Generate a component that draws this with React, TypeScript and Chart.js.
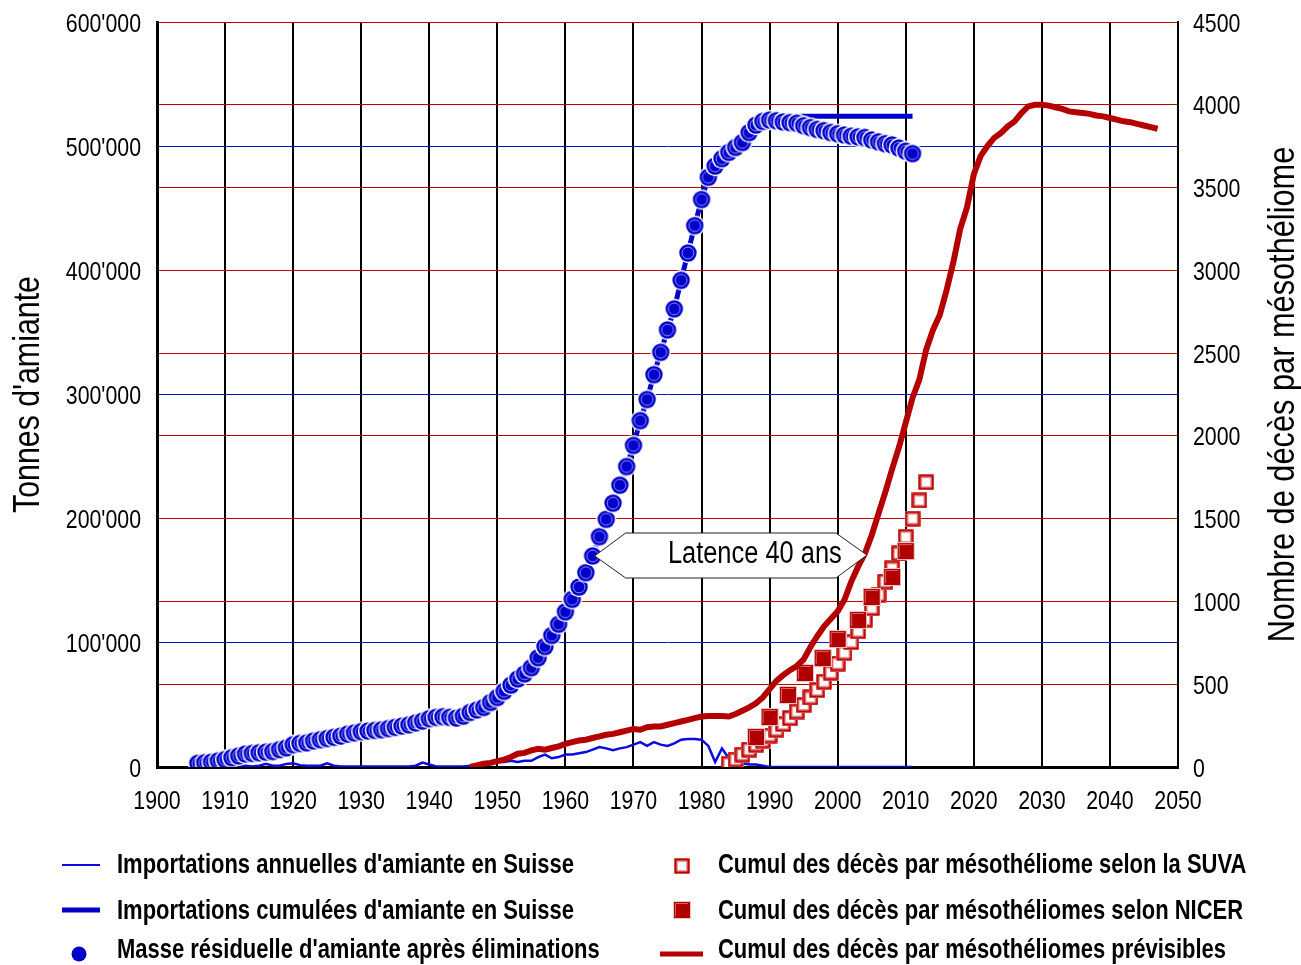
import React, { useEffect, useRef } from 'react';
import { Chart, registerables } from 'chart.js';

Chart.register(...registerables);

// Arial-metric face, horizontally condensed when drawn (Arial Narrow look)
const FONT = '"Liberation Sans", Arial, sans-serif';
const NARROW = 0.82;

// ---------- data ----------
const X_TICKS = [1900, 1910, 1920, 1930, 1940, 1950, 1960, 1970, 1980, 1990, 2000, 2010, 2020, 2030, 2040, 2050];
const Y_LEFT_TICKS = [0, 100, 200, 300, 400, 500, 600]; // thousand tonnes
const Y_LEFT_LABELS = ['0', "100'000", "200'000", "300'000", "400'000", "500'000", "600'000"];
const Y_RIGHT_TICKS = [0, 500, 1000, 1500, 2000, 2500, 3000, 3500, 4000, 4500];

const IMPORT_YEARS = [
  1906, 1907, 1908, 1909,
  1910, 1911, 1912, 1913, 1914, 1915, 1916, 1917, 1918, 1919,
  1920, 1921, 1922, 1923, 1924, 1925, 1926, 1927, 1928, 1929,
  1930, 1931, 1932, 1933, 1934, 1935, 1936, 1937, 1938, 1939,
  1940, 1941, 1942, 1943, 1944, 1945, 1946, 1947, 1948, 1949,
  1950, 1951, 1952, 1953, 1954, 1955, 1956, 1957, 1958, 1959,
  1960, 1961, 1962, 1963, 1964, 1965, 1966, 1967, 1968, 1969,
  1970, 1971, 1972, 1973, 1974, 1975, 1976, 1977, 1978, 1979,
  1980, 1981, 1982, 1983, 1984, 1985, 1986, 1987, 1988, 1989,
  1990, 1991, 1992, 1993, 1994, 1995, 1996, 1997, 1998, 1999,
  2000, 2001, 2002, 2003, 2004, 2005, 2006, 2007, 2008, 2009,
  2010, 2011,
];

// thousand tonnes per year
const ANNUAL_IMPORTS = [
  1, 0.5, 1, 1,
  1, 1.5, 1.5, 1, 0.5, 1, 2.5, 1, 1, 2.5,
  3, 1.5, 1, 1, 1, 3, 1, 0.5, 0.5, 0.5,
  0.5, 0.5, 0.5, 0.5, 0.5, 0.5, 0.5, 0.5, 1, 3.5,
  2, 0.5, 0.5, 0.5, 0.5, 0.5, 1, 2, 3, 3,
  4, 4, 5, 4, 5, 5, 8, 10, 7, 8,
  10, 10, 11, 12, 14, 16, 15, 13.5, 15, 16,
  18, 20, 17, 20, 18, 17, 19, 22, 22.5, 22.5,
  22, 17, 4, 15, 7, 4, 3, 2, 2, 1,
  0, 0, 0, 0, 0, 0, 0, 0, 0, 0,
  0, 0, 0, 0, 0, 0, 0, 0, 0, 0,
  0, 0,
];

// thousand tonnes
const CUMULATIVE_IMPORTS = [
  3, 3.5, 4, 5,
  6, 7.5, 9, 10.5, 11, 11.5, 12, 12.5, 14, 15.5,
  18, 19, 19.5, 21, 22, 23, 24, 25, 26.5, 27.5,
  28.5, 29, 29.5, 30, 31, 32, 33, 34, 35.5, 37,
  39, 40, 40.5, 40, 39.5, 41, 44, 46, 48, 52,
  56, 61, 66, 71, 75, 80, 88, 97, 106, 115,
  125, 135, 145, 156.5, 170, 185.5, 199.5, 212.5, 227, 242,
  259, 279, 296, 316, 334, 352, 369, 392, 414, 436,
  457, 475, 484, 490, 495, 499, 503, 511, 517, 520,
  522, 523, 523.5, 524, 524, 524, 524, 524, 524, 524,
  524, 524, 524, 524, 524, 524, 524, 524, 524, 524,
  524, 524,
];

// thousand tonnes
const RESIDUAL_MASS = [
  3, 3.5, 4, 5,
  6, 7.5, 9, 10.5, 11, 11.5, 12, 12.5, 14, 15.5,
  18, 19, 19.5, 21, 22, 23, 24, 25, 26.5, 27.5,
  28.5, 29, 29.5, 30, 31, 32, 33, 34, 35.5, 37,
  39, 40, 40.5, 40, 39.5, 41, 44, 46, 48, 52,
  56, 61, 66, 71, 75, 80, 88, 97, 106, 115,
  125, 135, 145, 156.5, 170, 185.5, 199.5, 212.5, 227, 242,
  259, 279, 296, 316, 334, 352, 369, 392, 414, 436,
  457, 475, 484, 490, 495, 499, 503, 511, 517, 520,
  521, 520.5, 519.5, 519, 518.5, 516.5, 515, 513.5, 512.5, 511,
  510, 509, 508, 507.5, 507, 505, 503.5, 502, 501, 498.5,
  496, 494,
];

const SUVA_YEARS = [
  1984, 1985, 1986, 1987, 1988, 1989, 1990, 1991, 1992, 1993,
  1994, 1995, 1996, 1997, 1998, 1999, 2000, 2001, 2002, 2003,
  2004, 2005, 2006, 2007, 2008, 2009, 2010, 2011, 2012, 2013,
];
const SUVA_DEATHS = [
  20, 45, 75, 105, 135, 160, 190, 225, 260, 295,
  335, 375, 420, 465, 515, 570, 625, 690, 755, 820,
  890, 960, 1040, 1120, 1200, 1290, 1390, 1500, 1610, 1720,
];

const NICER_YEARS = [1988, 1990, 1992.7, 1995.2, 1997.8, 2000, 2003, 2005, 2008, 2010];
const NICER_DEATHS = [181, 302, 435, 568, 658, 773, 888, 1027, 1148, 1304];

const FORECAST_YEARS = [
  1946, 1947, 1948, 1949,
  1950, 1951, 1952, 1953, 1954, 1955, 1956, 1957, 1958, 1959,
  1960, 1961, 1962, 1963, 1964, 1965, 1966, 1967, 1968, 1969,
  1970, 1971, 1972, 1973, 1974, 1975, 1976, 1977, 1978, 1979,
  1980, 1981, 1982, 1983, 1984, 1985, 1986, 1987, 1988, 1989,
  1990, 1991, 1992, 1993, 1994, 1995, 1996, 1997, 1998, 1999,
  2000, 2001, 2002, 2003, 2004, 2005, 2006, 2007, 2008, 2009,
  2010, 2011, 2012, 2013, 2014, 2015, 2016, 2017, 2018, 2019,
  2020, 2021, 2022, 2023, 2024, 2025, 2026, 2027, 2028, 2029,
  2030, 2031, 2032, 2033, 2034, 2035, 2036, 2037, 2038, 2039,
  2040, 2041, 2042, 2043, 2044, 2045, 2046, 2047,
];
const FORECAST_DEATHS = [
  0, 10, 20, 25,
  35, 45, 60, 80, 85, 100, 110, 105, 115, 125,
  140, 150, 160, 165, 175, 185, 195, 200, 210, 220,
  230, 225, 240, 245, 245, 255, 265, 275, 285, 295,
  305, 308, 308, 308, 305, 320, 340, 360, 385, 420,
  470, 520, 555, 585, 610, 650, 725, 790, 850, 895,
  940, 1010, 1120, 1210, 1290, 1400, 1530, 1660, 1800, 1930,
  2080, 2230, 2340, 2520, 2640, 2730, 2880, 3050, 3250, 3380,
  3580, 3690, 3750, 3800, 3830, 3870, 3900, 3950, 3990, 4000,
  4000, 3995, 3985, 3975, 3960, 3955, 3950, 3945, 3935, 3930,
  3920, 3910, 3900, 3895, 3885, 3875, 3865, 3855,
];

const LATENCY_LABEL = 'Latence 40 ans';
const LATENCY_FROM = { year: 1964.3, kt: 170 };
const LATENCY_TO = { year: 2004.3, deaths: 1280 };

const LEFT_TITLE = "Tonnes d'amiante";
const RIGHT_TITLE = 'Nombre de décès par mésothéliome';

const LEGEND_LABELS = [
  "Importations annuelles d'amiante en Suisse",
  "Importations cumulées d'amiante en Suisse",
  "Masse résiduelle d'amiante après éliminations",
  'Cumul des décès par mésothéliome selon la SUVA',
  'Cumul des décès par mésothéliomes selon NICER',
  'Cumul des décès par mésothéliomes prévisibles',
];

// ---------- styles ----------
const BLUE = '#0000cc';
const BLUE_THIN = '#0a0ae0';
const RED = '#b40000';

function pts(xs: number[], ys: number[]) {
  return xs.map((x, i) => ({ x, y: ys[i] }));
}

function narrowText(
  ctx: CanvasRenderingContext2D, text: string, x: number, y: number,
  size: number, opts: { bold?: boolean; align?: CanvasTextAlign; rotate?: boolean } = {},
) {
  ctx.save();
  ctx.translate(x, y);
  if (opts.rotate) ctx.rotate(-Math.PI / 2);
  ctx.scale(NARROW, 1);
  ctx.font = `${opts.bold ? 'bold ' : ''}${size}px ${FONT}`;
  ctx.fillStyle = '#000';
  ctx.textAlign = opts.align || 'left';
  ctx.textBaseline = 'alphabetic';
  ctx.fillText(text, 0, 0);
  ctx.restore();
}

function makeCircle(): HTMLCanvasElement {
  const c = document.createElement('canvas');
  c.width = 22; c.height = 22;
  const g = c.getContext('2d')!;
  g.beginPath(); g.arc(11, 11, 10.2, 0, Math.PI * 2); g.fillStyle = '#ffffff'; g.fill();
  g.beginPath(); g.arc(11, 11, 8.7, 0, Math.PI * 2); g.fillStyle = '#0000c8'; g.fill();
  g.beginPath(); g.arc(11, 11, 5.9, 0, Math.PI * 2); g.strokeStyle = '#8c8cff'; g.lineWidth = 1; g.stroke();
  return c;
}
function makeHollow(): HTMLCanvasElement {
  const c = document.createElement('canvas');
  c.width = 16; c.height = 16;
  const g = c.getContext('2d')!;
  g.fillStyle = '#ffffff'; g.fillRect(0, 0, 16, 16);
  g.strokeStyle = '#c00000'; g.lineWidth = 2.4; g.strokeRect(1.5, 1.5, 13, 13);
  g.strokeStyle = '#e8a0a0'; g.lineWidth = 1; g.strokeRect(3.5, 3.5, 9, 9);
  g.fillStyle = '#ffffff'; g.fillRect(4, 4, 8, 8);
  return c;
}
function makeFilled(): HTMLCanvasElement {
  const c = document.createElement('canvas');
  c.width = 18; c.height = 18;
  const g = c.getContext('2d')!;
  g.fillStyle = '#f0c4c4'; g.fillRect(0, 0, 18, 18);
  g.fillStyle = '#b00000'; g.fillRect(1, 1, 16, 16);
  g.strokeStyle = '#d86060'; g.lineWidth = 1;
  g.beginPath(); g.moveTo(2.5, 15); g.lineTo(2.5, 2.5); g.lineTo(15, 2.5); g.stroke();
  return c;
}

export default function App() {
  const ref = useRef<HTMLCanvasElement>(null);

  useEffect(() => {
    const canvas = ref.current!;
    const circleImg = makeCircle();
    const hollowImg = makeHollow();
    const filledImg = makeFilled();

    const latencyPlugin = {
      id: 'latency',
      afterDatasetsDraw(chart: any) {
        const { ctx, scales } = chart;
        const xl = scales.x.getPixelForValue(LATENCY_FROM.year);
        const yl = scales.y.getPixelForValue(LATENCY_FROM.kt);
        const xr = scales.x.getPixelForValue(LATENCY_TO.year);
        const yr = scales.y1.getPixelForValue(LATENCY_TO.deaths);
        const yc = (yl + yr) / 2;
        const h = 22.5;
        const inset = 31;
        ctx.save();
        ctx.beginPath();
        ctx.moveTo(xl, yl);
        ctx.lineTo(xl + inset, yc - h);
        ctx.lineTo(xr - inset, yc - h);
        ctx.lineTo(xr, yr);
        ctx.lineTo(xr - inset, yc + h);
        ctx.lineTo(xl + inset, yc + h);
        ctx.closePath();
        ctx.fillStyle = '#ffffff';
        ctx.fill();
        ctx.strokeStyle = '#222222';
        ctx.lineWidth = 1;
        ctx.stroke();
        ctx.restore();
        narrowText(ctx, LATENCY_LABEL, (xl + xr) / 2 + 24, yc + 7, 31, { align: 'center' });
      },
    };

    const textPlugin = {
      id: 'texts',
      afterDraw(chart: any) {
        const { ctx, chartArea, scales } = chart;
        // tick labels
        X_TICKS.forEach((v) => {
          narrowText(ctx, String(v), scales.x.getPixelForValue(v), chartArea.bottom + 42, 26, { align: 'center' });
        });
        Y_LEFT_TICKS.forEach((v, i) => {
          narrowText(ctx, Y_LEFT_LABELS[i], chartArea.left - 16, scales.y.getPixelForValue(v) + 9.5, 26, { align: 'right' });
        });
        Y_RIGHT_TICKS.forEach((v) => {
          narrowText(ctx, String(v), chartArea.right + 15, scales.y1.getPixelForValue(v) + 9.5, 26, { align: 'left' });
        });
        // axis titles, both reading bottom to top
        const midY = (chartArea.top + chartArea.bottom) / 2;
        narrowText(ctx, LEFT_TITLE, 39, midY, 37, { align: 'center', rotate: true });
        narrowText(ctx, RIGHT_TITLE, chart.width - 7, midY, 37.5, { align: 'center', rotate: true });

        // legend
        const rows = [873, 919, 958];
        const symY = [865, 910, 952];
        const leftText = 117;
        const rightText = 718;
        ctx.save();
        ctx.strokeStyle = BLUE_THIN; ctx.lineWidth = 2;
        ctx.beginPath(); ctx.moveTo(62, symY[0]); ctx.lineTo(100, symY[0]); ctx.stroke();
        ctx.strokeStyle = BLUE; ctx.lineWidth = 5;
        ctx.beginPath(); ctx.moveTo(62, symY[1]); ctx.lineTo(100, symY[1]); ctx.stroke();
        ctx.beginPath(); ctx.arc(79, symY[2] + 2, 7.5, 0, Math.PI * 2); ctx.fillStyle = '#0000c8'; ctx.fill();
        ctx.drawImage(hollowImg, 682 - 8, symY[0] + 1 - 8);
        ctx.drawImage(filledImg, 682 - 9, symY[1] - 9);
        ctx.strokeStyle = RED; ctx.lineWidth = 5;
        ctx.beginPath(); ctx.moveTo(660, symY[2] + 2); ctx.lineTo(703, symY[2] + 2); ctx.stroke();
        ctx.restore();
        for (let i = 0; i < 3; i++) {
          narrowText(ctx, LEGEND_LABELS[i], leftText, rows[i], 26.8, { bold: true });
          narrowText(ctx, LEGEND_LABELS[i + 3], rightText, rows[i], 26.8, { bold: true });
        }
      },
    };

    const chart = new Chart(canvas, {
      type: 'line',
      data: {
        datasets: [
          {
            label: LEGEND_LABELS[5],
            data: pts(FORECAST_YEARS, FORECAST_DEATHS),
            yAxisID: 'y1',
            borderColor: RED,
            borderWidth: 6,
            pointRadius: 0,
            tension: 0,
            order: 0,
          },
          {
            label: LEGEND_LABELS[4],
            data: pts(NICER_YEARS, NICER_DEATHS),
            yAxisID: 'y1',
            showLine: false,
            pointStyle: filledImg as any,
            pointRadius: 9,
            order: 1,
          },
          {
            label: LEGEND_LABELS[3],
            data: pts(SUVA_YEARS, SUVA_DEATHS),
            yAxisID: 'y1',
            showLine: false,
            pointStyle: hollowImg as any,
            pointRadius: 8,
            order: 2,
          },
          {
            label: LEGEND_LABELS[2],
            data: pts(IMPORT_YEARS, RESIDUAL_MASS),
            yAxisID: 'y',
            showLine: false,
            pointStyle: circleImg as any,
            pointRadius: 10,
            order: 3,
          },
          {
            label: LEGEND_LABELS[1],
            data: pts(IMPORT_YEARS, CUMULATIVE_IMPORTS),
            yAxisID: 'y',
            borderColor: BLUE,
            borderWidth: 5,
            pointRadius: 0,
            order: 4,
          },
          {
            label: LEGEND_LABELS[0],
            data: pts(IMPORT_YEARS, ANNUAL_IMPORTS),
            yAxisID: 'y',
            borderColor: BLUE_THIN,
            borderWidth: 2.5,
            pointRadius: 0,
            order: 5,
          },
        ],
      },
      options: {
        responsive: false,
        devicePixelRatio: 1,
        animation: false,
        events: [],
        layout: { padding: { left: 0, right: 0, top: 22, bottom: 158 } },
        plugins: {
          legend: { display: false },
          tooltip: { enabled: false },
          title: { display: false },
        },
        scales: {
          x: {
            type: 'linear',
            position: 'bottom',
            min: 1900,
            max: 2050,
            afterBuildTicks: (s: any) => { s.ticks = X_TICKS.map((v) => ({ value: v })); },
            afterFit: (s: any) => { s.height = 40; },
            ticks: { display: false },
            grid: { color: '#000000', lineWidth: 2, drawTicks: false },
            border: { color: '#000000', width: 3 },
          },
          y: {
            type: 'linear',
            position: 'left',
            min: 0,
            max: 600,
            afterBuildTicks: (s: any) => { s.ticks = Y_LEFT_TICKS.map((v) => ({ value: v })); },
            afterFit: (s: any) => { s.width = 157; },
            ticks: { display: false },
            grid: { color: '#1010c8', lineWidth: 1, drawTicks: false },
            border: { color: '#000000', width: 3 },
          },
          y1: {
            type: 'linear',
            position: 'right',
            min: 0,
            max: 4500,
            afterBuildTicks: (s: any) => { s.ticks = Y_RIGHT_TICKS.map((v) => ({ value: v })); },
            afterFit: (s: any) => { s.width = 123; },
            ticks: { display: false },
            grid: { color: '#c00000', lineWidth: 1, drawTicks: false },
            border: { color: '#000000', width: 2 },
          },
        },
      },
      plugins: [latencyPlugin, textPlugin],
    } as any);

    return () => chart.destroy();
  }, []);

  return (
    <div style={{ position: 'absolute', left: 0, top: 0, width: 1301, height: 965, background: '#ffffff' }}>
      <canvas ref={ref} width={1301} height={965} style={{ display: 'block', width: 1301, height: 965 }} />
    </div>
  );
}
